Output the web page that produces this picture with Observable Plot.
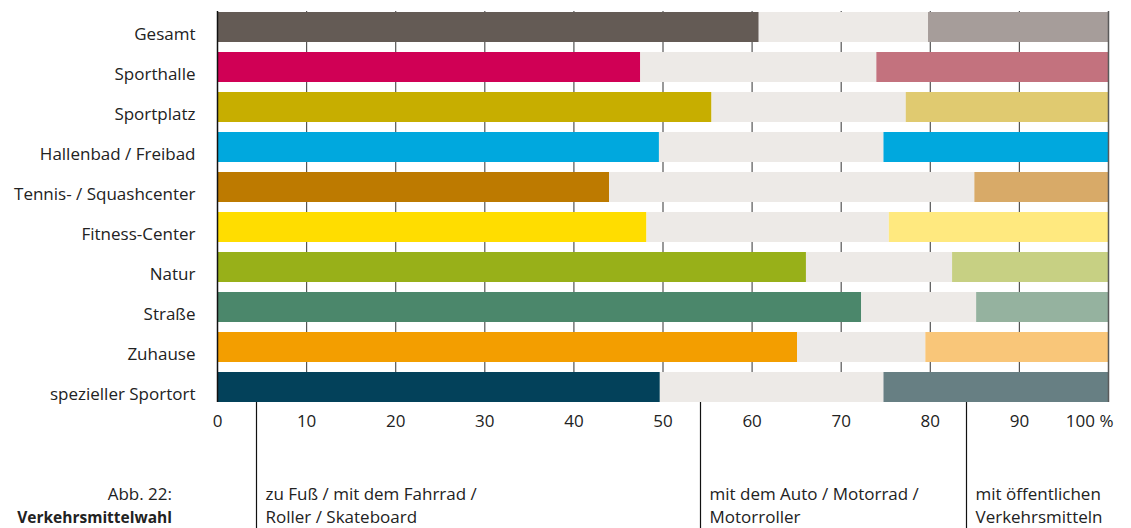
<!DOCTYPE html>
<html>
<head>
<meta charset="utf-8">
<script src="https://cdn.jsdelivr.net/npm/d3@7"></script>
<script src="https://cdn.jsdelivr.net/npm/@observablehq/plot@0.6"></script>
<style>
  html, body { margin: 0; padding: 0; background: #fff; }
  #chart svg { display: block; }
</style>
</head>
<body>
<div id="chart"></div>
<script>
const categories = ["Gesamt", "Sporthalle", "Sportplatz", "Hallenbad / Freibad", "Tennis- / Squashcenter", "Fitness-Center", "Natur", "Straße", "Zuhause", "spezieller Sportort"];
const walkBike = [60.8, 47.5, 55.5, 49.6, 44.0, 48.2, 66.1, 72.3, 65.1, 49.7];
const car = [19.0, 26.5, 21.8, 25.2, 41.0, 27.2, 16.4, 12.9, 14.4, 25.1];
const publicTransit = [20.2, 26.0, 22.7, 25.2, 15.0, 24.6, 17.5, 14.8, 20.5, 25.2];
const strongColors = ["#645b55", "#d00055", "#c7ae00", "#00a8de", "#bd7a00", "#ffdd00", "#98b019", "#4b876b", "#f39e00", "#03415a"];
const lightColors = ["#a69d9a", "#c3727e", "#e0ca70", "#00a8de", "#d8aa68", "#ffe97f", "#c7d083", "#95b29f", "#f9c679", "#677f83"];
const carColor = "#edeae7";
const xTicks = [0, 10, 20, 30, 40, 50, 60, 70, 80, 90, 100];
const tickLabels = ["0", "10", "20", "30", "40", "50", "60", "70", "80", "90", "100 %"];
const modeLabels = [["zu Fuß / mit dem Fahrrad /", "Roller / Skateboard"], ["mit dem Auto / Motorrad /", "Motorroller"], ["mit öffentlichen", "Verkehrsmitteln"]];
const modeMarkers = [4.4, 54.2, 84.1];
const figureNumber = "Abb. 22:";
const figureTitle = "Verkehrsmittelwahl";

const rows = [];
categories.forEach((c, i) => {
  rows.push({cat: c, mode: "walk", value: walkBike[i], color: strongColors[i]});
  rows.push({cat: c, mode: "car", value: car[i], color: carColor});
  rows.push({cat: c, mode: "public", value: publicTransit[i], color: lightColors[i]});
});

const font = "'Open Sans', sans-serif";
const chart = Plot.plot({
  width: 1131,
  height: 528,
  marginLeft: 217,
  marginRight: 23,
  marginTop: 7,
  marginBottom: 121,
  style: {fontFamily: font, fontSize: "17px", color: "#222", background: "#fff"},
  x: {domain: [0, 100], axis: null},
  y: {domain: categories, paddingInner: 0.25, paddingOuter: 0.125, label: null},
  color: {type: "identity"},
  marks: [
    Plot.ruleX(xTicks.slice(1, 10), {stroke: "#555", strokeWidth: 1.2, insetTop: 4, insetBottom: 5}),
    Plot.barX(rows, {x: "value", y: "cat", fill: "color", order: null}),
    Plot.ruleX([100], {stroke: "#5a5a5a", strokeWidth: 1.5, insetTop: 4, insetBottom: 5}),
    Plot.ruleX([0], {stroke: "#111", strokeWidth: 1.5, insetTop: 4, insetBottom: 5}),
    Plot.axisY({tickSize: 0, tickPadding: 22, dy: 7, label: null, fill: "#222"}),
    Plot.text(xTicks.slice(0, 10), {x: d => d, text: (d, i) => tickLabels[i], frameAnchor: "bottom", dy: 19, fill: "#222", fontSize: 17}),
    Plot.text(xTicks.slice(10), {x: d => d, text: (d, i) => tickLabels[10 + i], frameAnchor: "bottom", dy: 19, dx: 5, textAnchor: "end", fill: "#222", fontSize: 17})
  ]
});
document.getElementById("chart").append(chart);

// annotation below the axis, positioned with the chart's own x scale
const xs = chart.scale("x");
const svg = d3.select(chart);
const g = svg.append("g").attr("font-family", font).attr("font-size", 17).attr("fill", "#222").attr("text-anchor", "start");
modeMarkers.forEach((v, i) => {
  const px = Math.round(xs.apply(v)) + 0.5;
  g.append("line").attr("x1", px).attr("x2", px).attr("y1", 402).attr("y2", 528)
    .attr("stroke", "#111").attr("stroke-width", 1.2);
  modeLabels[i].forEach((t, j) => {
    g.append("text").attr("x", px + 9).attr("y", 500 + j * 23).text(t);
  });
});
g.append("text").attr("x", 172).attr("y", 500).attr("text-anchor", "end").text(figureNumber);
g.append("text").attr("x", 172).attr("y", 523).attr("text-anchor", "end").attr("font-weight", "bold").attr("font-size", 15.5).text(figureTitle);
</script>
</body>
</html>
